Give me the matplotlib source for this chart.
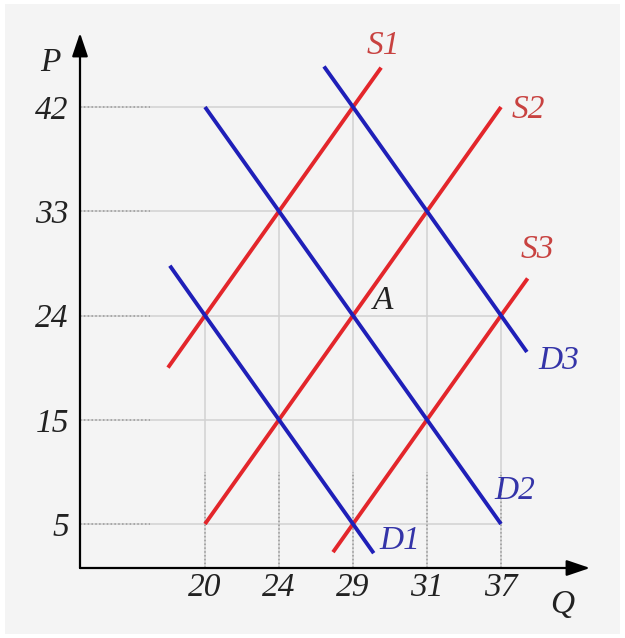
import matplotlib.pyplot as plt
import numpy as np
from matplotlib.patches import Rectangle

# tick values (axis is schematic: evenly spaced ticks, uneven values)
q_ticks = [20, 24, 29, 31, 37]
p_ticks = [5, 15, 24, 33, 42]

# supply curves (Q, P)
s1_q = [18, 20, 24, 29, 29.76]
s1_p = [19.5, 24, 33, 42, 45.4]
s2_q = [20, 24, 29, 31, 37]
s2_p = [5, 15, 24, 33, 42]
s3_q = [27.65, 29, 31, 37, 39.16]
s3_p = [2.3, 5, 15, 24, 27.2]

# demand curves (Q, P)
d1_q = [18.1, 20, 24, 29, 29.56]
d1_p = [28.3, 24, 15, 5, 2.2]
d2_q = [20, 24, 29, 31, 37]
d2_p = [42, 33, 24, 15, 5]
d3_q = [27.04, 29, 31, 37, 39.1]
d3_p = [45.5, 42, 33, 24, 20.85]

# guide lines: level -> where they stop
grid_h_p = [42, 33, 24, 15, 5]
grid_h_q_end = [29, 31, 37, 31, 37]
grid_v_q = [20, 24, 29, 31, 37]
grid_v_p_end = [24, 33, 42, 33, 24]


def knot_scale(knots):
    k = np.asarray(knots, float)
    n = len(k) - 1
    idx = np.arange(n + 1)

    def fwd(v):
        v = np.asarray(v, float)
        pos = np.interp(v, k, idx)
        pos = np.where(v < k[0], (v - k[0]) / (k[1] - k[0]), pos)
        pos = np.where(v > k[-1], n + (v - k[-1]) / (k[-1] - k[-2]), pos)
        return pos

    def inv(p):
        p = np.asarray(p, float)
        v = np.interp(p, idx, k)
        v = np.where(p < 0, k[0] + p * (k[1] - k[0]), v)
        v = np.where(p > n, k[-1] + (p - n) * (k[-1] - k[-2]), v)
        return v

    return fwd, inv


fq, iq = knot_scale(q_ticks)
fp, ip = knot_scale(p_ticks)

W, H = 625, 638
x0, dx = 205.0, 74.0     # pixel of first Q tick, spacing
y0, dy = 524.0, 104.25   # pixel of first P tick, spacing
ox, oy = 80.0, 568.0     # axis origin in pixels

fig = plt.figure(figsize=(W / 100, H / 100), dpi=100)
fig.patch.set_facecolor('white')
ax = fig.add_axes([0, 0, 1, 1])
ax.set_facecolor('white')
ax.add_patch(Rectangle((5 / W, 1 - 634 / H), 615 / W, 630 / H, transform=ax.transAxes,
                       facecolor='#f4f4f4', edgecolor='none', zorder=0))

ax.set_xscale('function', functions=(fq, iq))
ax.set_yscale('function', functions=(fp, ip))
ax.set_xlim(float(iq(-x0 / dx)), float(iq((W - x0) / dx)))
ax.set_ylim(float(ip((y0 - H) / dy)), float(ip(y0 / dy)))

q_axis = float(iq((ox - x0) / dx))
p_axis = float(ip((y0 - oy) / dy))

# guide lines
for p, qe in zip(grid_h_p, grid_h_q_end):
    ax.plot([q_axis, qe], [p, p], color='#d2d2d2', lw=1.1, zorder=1)
    ax.plot([q_axis, 17], [p, p], color='#9a9a9a', lw=1.1, ls=(0, (1, 1.5)), zorder=1)
for q, pe in zip(grid_v_q, grid_v_p_end):
    ax.plot([q, q], [p_axis, pe], color='#d2d2d2', lw=1.1, zorder=1)
    ax.plot([q, q], [p_axis, 10], color='#9a9a9a', lw=1.1, ls=(0, (1, 1.5)), zorder=1)

red = '#e3262b'
blue = '#1f1fb8'
for q, p in [(s1_q, s1_p), (s2_q, s2_p), (s3_q, s3_p)]:
    ax.plot(q, p, color=red, lw=2.8, solid_capstyle='butt', zorder=3)
for q, p in [(d1_q, d1_p), (d2_q, d2_p), (d3_q, d3_p)]:
    ax.plot(q, p, color=blue, lw=2.8, solid_capstyle='butt', zorder=4)

font = dict(family='Liberation Serif', style='italic', fontsize=24)

# curve labels at line ends
labels = [('S1', s1_q[-1], s1_p[-1], (2, 22), '#c84240'),
          ('S2', s2_q[-1], s2_p[-1], (27, -3), '#c84240'),
          ('S3', s3_q[-1], s3_p[-1], (10, 29), '#c84240'),
          ('D1', d1_q[-1], d1_p[-1], (26, 12), '#3434a8'),
          ('D2', d2_q[-1], d2_p[-1], (14, 33), '#3434a8'),
          ('D3', d3_q[-1], d3_p[-1], (32, -9), '#3434a8'),
          ('A', 29, 24, (30, 15), '#222222')]
for t, q, p, off, c in labels:
    ax.annotate(t, (q, p), xytext=off, textcoords='offset pixels',
                ha='center', va='center', color=c, zorder=5, **font)

# tick labels
ax.spines['bottom'].set_position(('axes', 1 - oy / H))
ax.spines['left'].set_position(('axes', ox / W))
for s in ax.spines.values():
    s.set_visible(False)
ax.set_xticks(q_ticks)
ax.set_xticklabels([str(v) for v in q_ticks], **font)
ax.set_yticks(p_ticks)
ax.set_yticklabels([str(v) for v in p_ticks], **font)
ax.tick_params(length=0, colors='#222222')
ax.tick_params(axis='x', pad=3)
ax.tick_params(axis='y', pad=8)
ax.minorticks_off()

# axes with arrows
arrow = dict(arrowstyle='-|>,head_length=0.65,head_width=0.22', lw=1.6, color='black',
             mutation_scale=22, shrinkA=0, shrinkB=0)
ax.annotate('', xy=(ox / W, 1 - 33 / H), xytext=(ox / W, 1 - oy / H),
            xycoords='axes fraction', arrowprops=arrow, zorder=6)
ax.annotate('', xy=(590 / W, 1 - oy / H), xytext=(ox / W, 1 - oy / H),
            xycoords='axes fraction', arrowprops=arrow, zorder=6)
ax.text(50 / W, 1 - 63 / H, 'P', transform=ax.transAxes, ha='center', va='center',
        color='#222222', **font)
ax.text(562 / W, 1 - 605 / H, 'Q', transform=ax.transAxes, ha='center', va='center',
        color='#222222', **font)

fig.savefig('out.png', dpi=100)
